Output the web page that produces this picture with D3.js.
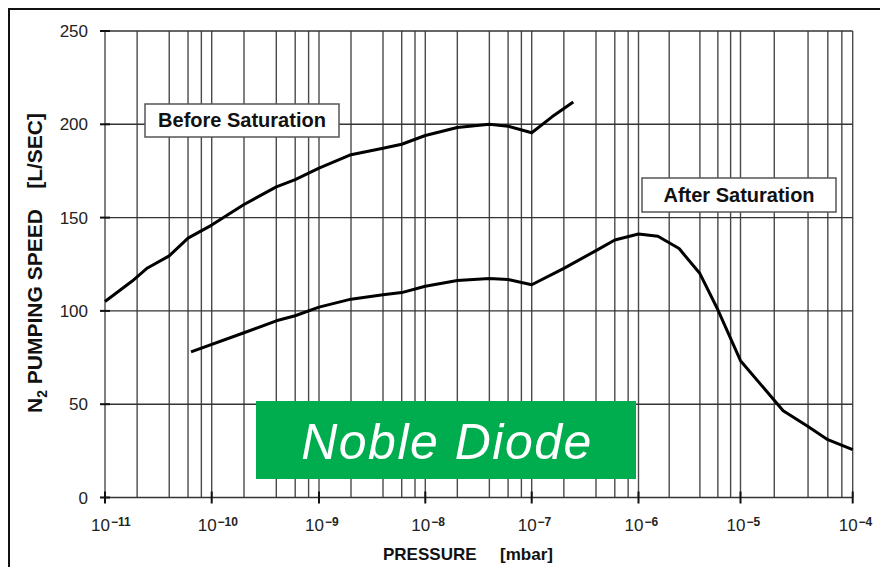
<!DOCTYPE html>
<html>
<head>
<meta charset="utf-8">
<script src="https://cdn.jsdelivr.net/npm/d3@7"></script>
<style>
  html, body { margin: 0; padding: 0; background: #fff; }
  svg { display: block; font-family: "Liberation Sans", Arial, sans-serif; }
</style>
</head>
<body>
<svg id="chart" width="880" height="567"></svg>
<script>
// Pumping speed curves for N2, pressure in mbar, speed in L/s
const beforePressure = [1e-11, 1.8e-11, 2.5e-11, 4e-11, 6e-11, 1e-10, 2e-10, 4e-10, 6e-10, 1e-9,
                        2e-9, 4e-9, 6e-9, 1e-8, 2e-8, 4e-8, 6e-8, 1e-7, 1.55e-7, 2.45e-7];
const beforeSpeed    = [105, 116, 123, 129.5, 139, 146, 157, 166.5, 170.3, 176.5,
                        183.7, 187.2, 189.3, 194, 198.3, 200, 199, 195.5, 204, 212];

const afterPressure = [6.4e-11, 2e-10, 4e-10, 6e-10, 1e-9, 2e-9, 4e-9, 6e-9, 1e-8, 2e-8, 4e-8, 6e-8,
                       1e-7, 2e-7, 4e-7, 6e-7, 1e-6, 1.55e-6, 2.5e-6, 4e-6, 6e-6, 1e-5, 2.4e-5, 4e-5, 6e-5, 1e-4];
const afterSpeed    = [78, 88.3, 94.7, 97.4, 102, 106.3, 108.6, 109.8, 113.2, 116.3, 117.4, 116.8,
                       114, 122.8, 132.3, 138, 141.2, 140, 133.4, 120, 100.6, 73.3, 46.5, 38, 31, 25.6];

// Axis ticks
const decadeExponents = [-11, -10, -9, -8, -7, -6, -5, -4];
const gridMantissas   = [2, 4, 6, 8];
const speedTicks      = [0, 50, 100, 150, 200, 250];

const seriesLabels = ["Before Saturation", "After Saturation"];
const badgeText = "Noble Diode";

const svg = d3.select("#chart");

// Decade positions along the pressure axis
const decades = decadeExponents.map(e => Math.pow(10, e));
const x = d3.scaleLog()
  .domain(decades)
  .range([105, 211.7, 319, 425.3, 531.7, 638.5, 740.5, 852.7]);
const y = d3.scaleLinear().domain([0, 250]).range([497.5, 31]);

// Outer frame
svg.append("path")
  .attr("d", "M9,570 V9 H884")
  .attr("fill", "none")
  .attr("stroke", "#111")
  .attr("stroke-width", 2);

// Vertical grid: decades plus 2, 4, 6, 8 within each decade
const gridX = [];
decades.forEach((d, i) => {
  gridX.push(d);
  if (i < decades.length - 1) gridMantissas.forEach(m => gridX.push(m * d));
});

const grid = svg.append("g");
grid.selectAll("line.v")
  .data(gridX)
  .join("line")
  .attr("class", "v")
  .attr("x1", d => x(d)).attr("x2", d => x(d))
  .attr("y1", y(0)).attr("y2", y(250))
  .attr("stroke", "#4a4a4a")
  .attr("stroke-width", 1.4);

grid.selectAll("line.h")
  .data(speedTicks)
  .join("line")
  .attr("class", "h")
  .attr("x1", x(1e-11)).attr("x2", x(1e-4))
  .attr("y1", d => y(d)).attr("y2", d => y(d))
  .attr("stroke", "#333")
  .attr("stroke-width", 1.4);

// Tick marks
grid.selectAll("line.yt")
  .data(speedTicks)
  .join("line")
  .attr("class", "yt")
  .attr("x1", x(1e-11) - 5).attr("x2", x(1e-11) + 5)
  .attr("y1", d => y(d)).attr("y2", d => y(d))
  .attr("stroke", "#111")
  .attr("stroke-width", 2);

grid.selectAll("line.xt")
  .data(decades)
  .join("line")
  .attr("class", "xt")
  .attr("x1", d => x(d)).attr("x2", d => x(d))
  .attr("y1", y(0) - 6).attr("y2", y(0) + 6)
  .attr("stroke", "#111")
  .attr("stroke-width", 2);

// Y tick labels
svg.append("g").selectAll("text")
  .data(speedTicks)
  .join("text")
  .attr("x", 88)
  .attr("y", d => y(d) + 6)
  .attr("text-anchor", "end")
  .attr("font-size", 17)
  .attr("fill", "#222")
  .text(d => d);

// X tick labels: 10 with bold superscript exponent
const xl = svg.append("g").selectAll("text")
  .data(decadeExponents)
  .join("text")
  .attr("x", e => x(Math.pow(10, e)) - 14)
  .attr("y", 531)
  .attr("fill", "#222");
xl.append("tspan").attr("font-size", 17).text("10");
xl.append("tspan")
  .attr("font-size", 12)
  .attr("font-weight", "bold")
  .attr("dy", -5)
  .attr("dx", 1)
  .text(e => "\u2212" + Math.abs(e));

// Axis titles
svg.append("text")
  .attr("x", 383).attr("y", 560)
  .attr("font-size", 17).attr("font-weight", "bold").attr("fill", "#111")
  .text("PRESSURE");
svg.append("text")
  .attr("x", 553).attr("y", 560)
  .attr("text-anchor", "end")
  .attr("font-size", 17).attr("font-weight", "bold").attr("fill", "#111")
  .text("[mbar]");

const yTitle = svg.append("g").attr("transform", "translate(42,0) rotate(-90)");
const yt1 = yTitle.append("text")
  .attr("x", -413).attr("y", 0)
  .attr("font-size", 21).attr("font-weight", "bold").attr("fill", "#111");
yt1.append("tspan").text("N");
yt1.append("tspan").attr("font-size", 14).attr("dy", 5).text("2");
yt1.append("tspan").attr("dy", -5).text(" PUMPING SPEED");
yTitle.append("text")
  .attr("x", -113).attr("y", 0)
  .attr("text-anchor", "end")
  .attr("font-size", 21).attr("font-weight", "bold").attr("fill", "#111")
  .text("[L/SEC]");

// Curves
const line = d3.line()
  .x(d => x(d[0]))
  .y(d => y(d[1]));

const beforeData = d3.zip(beforePressure, beforeSpeed);
const afterData = d3.zip(afterPressure, afterSpeed);

svg.append("path")
  .datum(beforeData)
  .attr("d", line)
  .attr("fill", "none")
  .attr("stroke", "#000")
  .attr("stroke-width", 3)
  .attr("stroke-linejoin", "round");

svg.append("path")
  .datum(afterData)
  .attr("d", line)
  .attr("fill", "none")
  .attr("stroke", "#000")
  .attr("stroke-width", 3)
  .attr("stroke-linejoin", "round");

// Series labels in boxes
const labelBoxes = [
  { text: seriesLabels[0], x0: 145, x1: 339, y0: 104, y1: 137 },
  { text: seriesLabels[1], x0: 642, x1: 836, y0: 178, y1: 212 }
];
const lb = svg.append("g").selectAll("g").data(labelBoxes).join("g");
lb.append("rect")
  .attr("x", d => d.x0).attr("y", d => d.y0)
  .attr("width", d => d.x1 - d.x0).attr("height", d => d.y1 - d.y0)
  .attr("fill", "#fff")
  .attr("stroke", "#555")
  .attr("stroke-width", 1.5);
lb.append("text")
  .attr("x", d => (d.x0 + d.x1) / 2)
  .attr("y", d => d.y1 - 10)
  .attr("text-anchor", "middle")
  .attr("font-size", 20)
  .attr("font-weight", "bold")
  .attr("fill", "#111")
  .text(d => d.text);

// Product badge
svg.append("rect")
  .attr("x", 256).attr("y", 401)
  .attr("width", 380).attr("height", 78)
  .attr("fill", "#00ad4e");
svg.append("text")
  .attr("x", 447).attr("y", 459)
  .attr("text-anchor", "middle")
  .attr("font-size", 50)
  .attr("font-style", "italic")
  .attr("letter-spacing", 1.5)
  .attr("fill", "#fff")
  .text(badgeText);
</script>
</body>
</html>
